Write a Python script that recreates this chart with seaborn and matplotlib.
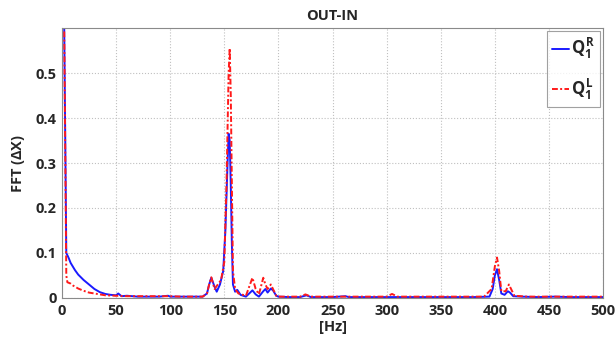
"""FFT spectrum of OUT-IN displacement, right vs left sensor."""

import matplotlib
matplotlib.use("Agg")
import matplotlib.pyplot as plt
import seaborn as sns
import pandas as pd

# Frequency points [Hz] and FFT amplitudes
freq_r = [2, 4, 6, 8, 10, 12, 15, 20, 25, 30, 35, 40, 45, 50, 52, 55, 60, 70, 80,
          90, 98, 100, 110, 120, 130, 134, 136, 138, 141, 143, 146, 149, 151, 153,
          154, 155, 156, 157, 158, 160, 162, 165, 170, 173, 176, 179, 182, 186, 188,
          190, 193, 195, 198, 200, 210, 220, 226, 230, 240, 250, 262, 265, 280, 300,
          320, 340, 360, 380, 395, 398, 400, 402, 404, 406, 409, 412, 414, 417, 425,
          440, 455, 470, 485, 500]
amp_r = [0.62, 0.10, 0.09, 0.078, 0.07, 0.062, 0.052, 0.04, 0.03, 0.02, 0.013, 0.009,
         0.007, 0.006, 0.01, 0.004, 0.005, 0.003, 0.003, 0.003, 0.005, 0.003, 0.003,
         0.003, 0.003, 0.01, 0.03, 0.045, 0.025, 0.014, 0.03, 0.06, 0.15, 0.30, 0.365,
         0.35, 0.25, 0.12, 0.03, 0.014, 0.018, 0.007, 0.003, 0.01, 0.017, 0.008, 0.003,
         0.015, 0.02, 0.012, 0.021, 0.017, 0.005, 0.003, 0.002, 0.002, 0.006, 0.002,
         0.002, 0.002, 0.004, 0.002, 0.002, 0.002, 0.002, 0.002, 0.002, 0.002, 0.003,
         0.02, 0.05, 0.064, 0.04, 0.01, 0.007, 0.015, 0.012, 0.004, 0.003, 0.002,
         0.003, 0.002, 0.002, 0.002]

freq_l = [2, 4, 5, 8, 10, 15, 20, 25, 30, 35, 40, 50, 60, 70, 80, 90, 100, 110, 120,
          130, 134, 136, 138, 141, 144, 147, 150, 152, 154, 155, 156, 157, 158, 160,
          163, 170, 173, 176, 179, 182, 186, 188, 190, 193, 195, 198, 200, 210, 220,
          225, 230, 250, 265, 280, 300, 305, 310, 330, 350, 370, 390, 397, 400, 402,
          404, 406, 410, 413, 415, 418, 430, 450, 470, 490, 500]
amp_l = [0.62, 0.05, 0.035, 0.032, 0.028, 0.021, 0.016, 0.012, 0.01, 0.008, 0.006,
         0.005, 0.004, 0.004, 0.004, 0.004, 0.004, 0.003, 0.003, 0.003, 0.01, 0.03,
         0.046, 0.02, 0.03, 0.04, 0.08, 0.25, 0.50, 0.555, 0.45, 0.25, 0.06, 0.02,
         0.01, 0.005, 0.025, 0.045, 0.02, 0.008, 0.045, 0.03, 0.02, 0.03, 0.02, 0.005,
         0.003, 0.003, 0.003, 0.008, 0.003, 0.003, 0.003, 0.003, 0.003, 0.009, 0.003,
         0.003, 0.003, 0.003, 0.003, 0.02, 0.07, 0.09, 0.06, 0.015, 0.015, 0.03, 0.02,
         0.005, 0.003, 0.003, 0.003, 0.003, 0.003]

x_ticks = [0, 50, 100, 150, 200, 250, 300, 350, 400, 450, 500]
y_ticks = [0, 0.1, 0.2, 0.3, 0.4, 0.5]
y_tick_labels = ["0", "0.1", "0.2", "0.3", "0.4", "0.5"]

sns.set_style("white")
plt.rcParams["font.family"] = ["Open Sans", "DejaVu Sans"]
plt.rcParams["font.weight"] = "bold"
plt.rcParams["mathtext.fontset"] = "custom"
plt.rcParams["mathtext.rm"] = "Open Sans:bold"
plt.rcParams["mathtext.it"] = "Open Sans:bold"
plt.rcParams["mathtext.bf"] = "Open Sans:bold"

df_r = pd.DataFrame({"freq": freq_r, "amp": amp_r})
df_l = pd.DataFrame({"freq": freq_l, "amp": amp_l})

fig = plt.figure(figsize=(6.16, 3.48), dpi=100)
ax = fig.add_axes([0.1006, 0.1437, 0.8784, 0.7758])

sns.lineplot(data=df_r, x="freq", y="amp", ax=ax, color="#1a1aff", lw=1.4,
             label=r"$Q_1^R$")
sns.lineplot(data=df_l, x="freq", y="amp", ax=ax, color="#ff1a1a", lw=1.4,
             linestyle=(0, (3, 1.2, 1, 1.2)), label=r"$Q_1^L$")

ax.set_xlim(0, 500)
ax.set_ylim(0, 0.6)
ax.set_xticks(x_ticks)
ax.set_yticks(y_ticks)
ax.set_yticklabels(y_tick_labels)
ax.tick_params(direction="in", length=4, labelsize=10.5, color="#707070", pad=4)
for lbl in ax.get_xticklabels() + ax.get_yticklabels():
    lbl.set_fontweight("bold")
ax.grid(True, linestyle=":", color="#c0c0c0", lw=0.8)
for s in ax.spines.values():
    s.set_color("#8a8a8a")
    s.set_linewidth(0.8)

ax.set_title("OUT-IN", fontsize=10.5, fontweight="bold", pad=6)
ax.set_xlabel("[Hz]", fontsize=10.5, fontweight="bold", labelpad=2)
ax.set_ylabel("FFT ($\\Delta$X)", fontsize=10.5, fontweight="bold", labelpad=6)

leg = ax.legend(loc="upper right", fontsize=12, frameon=True, fancybox=False,
                handlelength=1.0, handletextpad=0.1, borderpad=0.3,
                labelspacing=0.9, borderaxespad=0.2)
leg.get_frame().set_edgecolor("#8a8a8a")
leg.get_frame().set_linewidth(0.8)

fig.savefig("out.png", dpi=100)
plt.close(fig)
